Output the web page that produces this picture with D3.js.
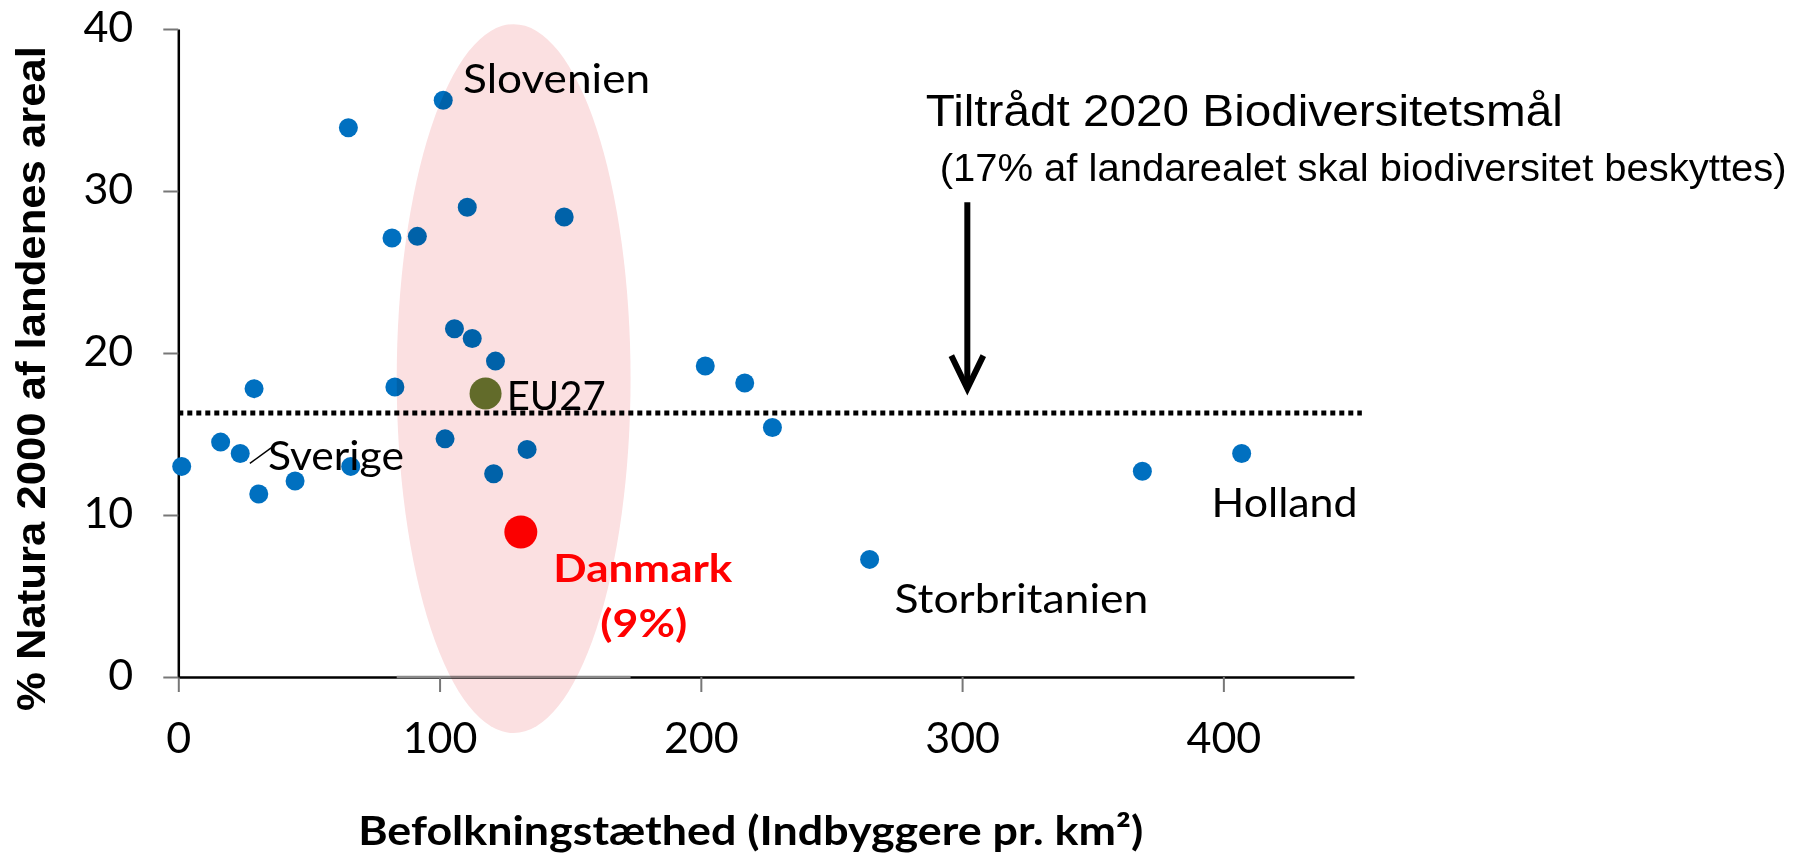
<!DOCTYPE html>
<html>
<head>
<meta charset="utf-8">
<script src="https://cdn.jsdelivr.net/npm/d3@7"></script>
<style>
  body { margin: 0; background: #fff; }
  .tick text { font-family: Lato, sans-serif; }
</style>
</head>
<body>
<div class="chart"></div>
<script>
// data
var density = [1.3, 16.2, 23.7, 29.0, 30.8, 44.7, 65.1, 66.0, 81.8, 82.9, 91.5, 101.4, 102.1,
               105.7, 110.6, 112.5, 121.4, 120.7, 133.5, 147.7, 201.7, 216.8, 227.4, 264.6, 369, 407];
var natura = [13.0, 14.5, 13.8, 17.8, 11.3, 12.1, 33.9, 13.0, 27.1, 17.9, 27.2, 35.6, 14.7,
              21.5, 29.0, 20.9, 19.5, 12.55, 14.05, 28.4, 19.2, 18.15, 15.4, 7.26, 12.7, 13.8];
var eu27 = [117.6, 17.5];
var danmark = [131.1, 8.95];
var target = 16.3;          // dotted line
var xTicks = [0, 100, 200, 300, 400];
var yTicks = [0, 10, 20, 30, 40];
var ellipseX = [83.6, 173.1];   // highlighted band (data units)
var ellipseY = [-3.46, 40.3];
var arrowX = 302, arrowY = [29.3, 17.8];
var sverigeLine = [[27.4, 13.19], [36.2, 14.22]];

// text labels: [text, x, y, anchor, width, size, weight, colour, family]
var labels = [
    ["Slovenien", 109.0, 36.07, "start", 187, 40, "normal", "#000", "Lato"],
    ["EU27", 125.7, 16.48, "start", 99, 40, "normal", "#000", "Lato"],
    ["Sverige", 34.3, 12.78, "start", 136, 40, "normal", "#000", "Lato"],
    ["Danmark", 177.8, 5.88, "middle", 179, 39, "bold", "#ff0000", "Lato"],
    ["(9%)", 178.2, 2.47, "middle", 87, 39, "bold", "#ff0000", "Lato"],
    ["Storbritanien", 274.1, 3.97, "start", 254, 40, "normal", "#000", "Lato"],
    ["Holland", 395.5, 9.88, "start", 146, 40, "normal", "#000", "Lato"],
    ["Tiltrådt 2020 Biodiversitetsmål", 286.1, 34.01, "start", 637, 45, "normal", "#000", "Liberation Sans"],
    ["(17% af landarealet skal biodiversitet beskyttes)", 291.4, 30.59, "start", 847, 38, "normal", "#000", "Liberation Sans"]
];

// set the dimensions and margins of the graph
var margin = {top: 29, right: 440, bottom: 177, left: 178.3},
    width = 1794 - margin.left - margin.right,
    height = 854 - margin.top - margin.bottom;

var x = d3.scaleLinear().domain([0, 450]).range([0, width]);
var y = d3.scaleLinear().domain([0, 40]).range([height, 0]);

var svg = d3.select(".chart").append("svg")
    .attr("width", 1794)
    .attr("height", 854)
    .append("g")
    .attr("transform", "translate(" + margin.left + "," + margin.top + ")");

// axes
var xAxis = svg.append("g")
    .attr("transform", "translate(0," + height + ")")
    .call(d3.axisBottom(x).tickValues(xTicks).tickSize(15).tickPadding(30).tickSizeOuter(0));
var yAxis = svg.append("g")
    .call(d3.axisLeft(y).tickValues(yTicks).tickSize(15).tickPadding(30).tickSizeOuter(0));

[xAxis, yAxis].forEach(function(a) {
    a.select(".domain").attr("stroke", "#000").attr("stroke-width", 2.5);
    a.selectAll(".tick line").attr("stroke", "#777").attr("stroke-width", 2);
    a.selectAll(".tick text").attr("font-size", 43).attr("fill", "#000");
});
yAxis.selectAll(".tick text").attr("dy", "0.3em");

// grey piece of the x axis under the band
svg.append("line")
    .attr("x1", x(ellipseX[0])).attr("x2", x(ellipseX[1]))
    .attr("y1", y(0)).attr("y2", y(0))
    .attr("stroke", "#8a8a8a").attr("stroke-width", 2.5);

// target line
svg.append("line")
    .attr("x1", x(0)).attr("x2", x(453))
    .attr("y1", y(target)).attr("y2", y(target))
    .attr("stroke", "#000").attr("stroke-width", 5)
    .attr("stroke-dasharray", "5,4");

// points
svg.selectAll(".dot")
    .data(density)
    .enter().append("circle")
    .attr("class", "dot")
    .attr("cx", function(d) { return x(d); })
    .attr("cy", function(d, i) { return y(natura[i]); })
    .attr("r", 9.5)
    .attr("fill", "#0070c0");

svg.append("circle")
    .attr("cx", x(eu27[0])).attr("cy", y(eu27[1]))
    .attr("r", 16).attr("fill", "#637a2f");
svg.append("circle")
    .attr("cx", x(danmark[0])).attr("cy", y(danmark[1]))
    .attr("r", 16.5).attr("fill", "#ff0000");

// pink band, blended on top
svg.append("ellipse")
    .attr("cx", x((ellipseX[0] + ellipseX[1]) / 2))
    .attr("cy", y((ellipseY[0] + ellipseY[1]) / 2))
    .attr("rx", (x(ellipseX[1]) - x(ellipseX[0])) / 2)
    .attr("ry", (y(ellipseY[0]) - y(ellipseY[1])) / 2)
    .attr("fill", "#fbe0e1")
    .style("mix-blend-mode", "multiply");

// sverige leader line
svg.append("line")
    .attr("x1", x(sverigeLine[0][0])).attr("y1", y(sverigeLine[0][1]))
    .attr("x2", x(sverigeLine[1][0])).attr("y2", y(sverigeLine[1][1]))
    .attr("stroke", "#000").attr("stroke-width", 1.5);

// arrow
svg.append("line")
    .attr("x1", x(arrowX)).attr("x2", x(arrowX))
    .attr("y1", y(arrowY[0])).attr("y2", y(arrowY[1]) - 3)
    .attr("stroke", "#000").attr("stroke-width", 6);
svg.append("path")
    .attr("d", "M" + (x(arrowX) - 16) + "," + (y(arrowY[1]) - 33) +
               "L" + x(arrowX) + "," + y(arrowY[1]) +
               "L" + (x(arrowX) + 16) + "," + (y(arrowY[1]) - 33))
    .attr("fill", "none").attr("stroke", "#000").attr("stroke-width", 6);

// labels
svg.selectAll(".lbl")
    .data(labels)
    .enter().append("text")
    .attr("class", "lbl")
    .attr("x", function(d) { return x(d[1]); })
    .attr("y", function(d) { return y(d[2]); })
    .attr("text-anchor", function(d) { return d[3]; })
    .attr("textLength", function(d) { return d[4]; })
    .attr("lengthAdjust", "spacingAndGlyphs")
    .attr("font-size", function(d) { return d[5]; })
    .attr("font-weight", function(d) { return d[6]; })
    .attr("fill", function(d) { return d[7]; })
    .attr("font-family", function(d) { return d[8]; })
    .text(function(d) { return d[0]; });

// axis titles
svg.append("text")
    .attr("x", 572.4).attr("y", height + 168)
    .attr("text-anchor", "middle")
    .attr("font-family", "Lato").attr("font-weight", "bold").attr("font-size", 40)
    .attr("textLength", 785).attr("lengthAdjust", "spacingAndGlyphs")
    .text("Befolkningstæthed (Indbyggere pr. km²)");

svg.append("text")
    .attr("transform", "translate(" + (44.6 - margin.left) + "," + (378.5 - margin.top) + ") rotate(-90)")
    .attr("text-anchor", "middle")
    .attr("font-family", "Liberation Sans").attr("font-weight", "bold").attr("font-size", 40)
    .attr("textLength", 665).attr("lengthAdjust", "spacingAndGlyphs")
    .text("% Natura 2000 af landenes areal");
</script>
</body>
</html>
